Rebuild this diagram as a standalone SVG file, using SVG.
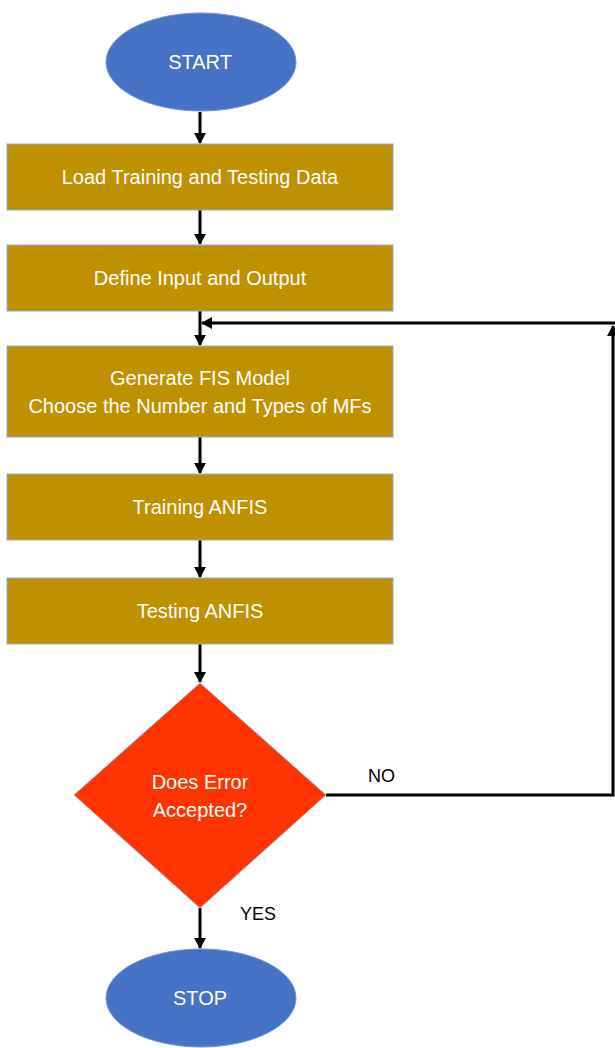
<svg xmlns="http://www.w3.org/2000/svg" width="615" height="1048" viewBox="0 0 615 1048">
<defs>
<marker id="ah" markerWidth="11" markerHeight="12" viewBox="0 0 11 12" refX="10" refY="6" orient="auto" markerUnits="userSpaceOnUse">
<path d="M0,0 L11,6 L0,12 Z" fill="#000"/>
</marker>
<style>
.term{fill:#4472C4;stroke:#6E93D6;stroke-width:1}
.proc{fill:#BF9000;stroke:#8FAADC;stroke-width:1}
.dec{fill:#FF3300;stroke:#9DB0C8;stroke-width:1}
.t{font-family:"Liberation Sans",Arial,sans-serif;font-size:20px;fill:#fff;text-anchor:middle}
.lbl{font-family:"Liberation Sans",Arial,sans-serif;font-size:18px;fill:#000}
.c{stroke:#000;stroke-width:3;fill:none}
</style>
</defs>
<rect width="615" height="1048" fill="#fff"/>
<g id="connectors">
<line class="c" x1="200" y1="112" x2="200" y2="143" marker-end="url(#ah)"/>
<line class="c" x1="200" y1="210" x2="200" y2="244" marker-end="url(#ah)"/>
<line class="c" x1="200" y1="311" x2="200" y2="345" marker-end="url(#ah)"/>
<line class="c" x1="200" y1="437" x2="200" y2="473" marker-end="url(#ah)"/>
<line class="c" x1="200" y1="540" x2="200" y2="577" marker-end="url(#ah)"/>
<line class="c" x1="200" y1="644" x2="200" y2="682" marker-end="url(#ah)"/>
<line class="c" x1="200" y1="908" x2="200" y2="948" marker-end="url(#ah)"/>
<polyline class="c" points="326,795 613,795 613,326" marker-end="url(#ah)"/>
<line class="c" x1="615" y1="323" x2="202" y2="323" marker-end="url(#ah)"/>
</g>
<g id="start">
<ellipse class="term" cx="201" cy="62" rx="95" ry="49"/>
<text class="t" x="200" y="69">START</text>
</g>
<g id="load">
<rect class="proc" x="7" y="144" width="386" height="66"/>
<text class="t" x="200" y="184">Load Training and Testing Data</text>
</g>
<g id="define">
<rect class="proc" x="7" y="245" width="386" height="66"/>
<text class="t" x="200" y="285">Define Input and Output</text>
</g>
<g id="generate">
<rect class="proc" x="7" y="346" width="386" height="91"/>
<text class="t" x="200" y="385">Generate FIS Model</text>
<text class="t" x="200" y="413">Choose the Number and Types of MFs</text>
</g>
<g id="training">
<rect class="proc" x="7" y="474" width="386" height="66"/>
<text class="t" x="200" y="514">Training ANFIS</text>
</g>
<g id="testing">
<rect class="proc" x="7" y="578" width="386" height="66"/>
<text class="t" x="200" y="618">Testing ANFIS</text>
</g>
<g id="decision">
<polygon class="dec" points="200,683 326,795 200,908 74,795"/>
<text class="t" x="200" y="789">Does Error</text>
<text class="t" x="200" y="817">Accepted?</text>
</g>
<g id="stop">
<ellipse class="term" cx="201" cy="998" rx="95" ry="49"/>
<text class="t" x="200" y="1005">STOP</text>
</g>
<g id="labels">
<text class="lbl" x="368" y="782">NO</text>
<text class="lbl" x="240" y="920">YES</text>
</g>
</svg>
